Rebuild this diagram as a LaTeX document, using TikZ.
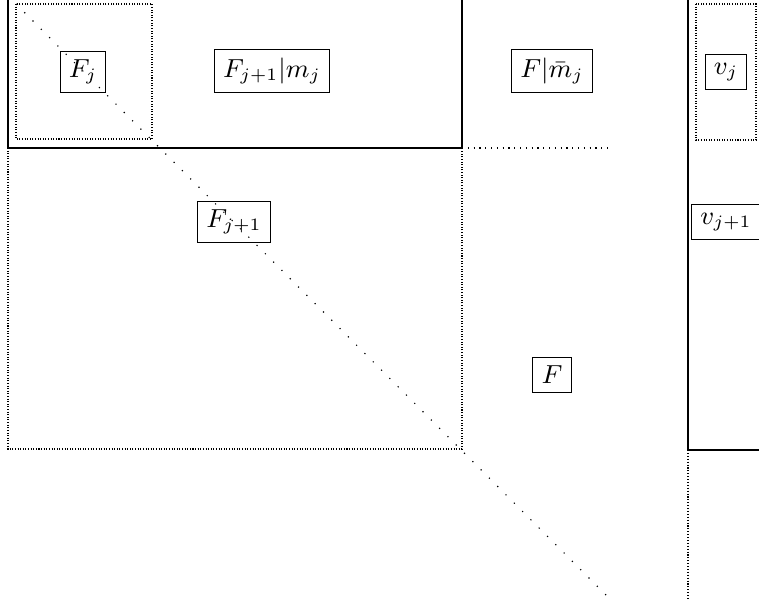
\documentclass[tikz,border=0pt]{standalone}
\begin{document}
\begin{tikzpicture}[x=0.3448pt,y=-0.3448pt,
  lbl/.style={draw,line width=0.35pt,inner sep=3pt,fill=none,font=\fontsize{9}{11}\selectfont},
  solidline/.style={line width=0.35pt},
  boxdots/.style={line width=0.4pt,dash pattern=on 0.35pt off 0.55pt},
  diagdots/.style={line width=0.4pt,dash pattern=on 0.4pt off 3.65pt},
  hdots/.style={line width=0.4pt,dash pattern=on 0.4pt off 1.6pt},
  vdots/.style={line width=0.4pt,dash pattern=on 0.4pt off 0.6pt}]
\clip (0,0) rectangle (759,609);
% matrix blocks
\draw[solidline] (8,-20) rectangle (462,148);
\draw[boxdots] (16,4) rectangle (152,139);
\draw[boxdots] (8,148) rectangle (462,449);
\draw[hdots] (462,148) -- (610,148);
\coordinate (d0) at (16,4);
\coordinate (d1) at (608,597);
\draw[diagdots] (d0) -- (d1);
% vector
\draw[solidline] (688,-20) -- (688,450) -- (780,450);
\draw[vdots] (688,450) -- (688,600);
\draw[boxdots] (696,4) rectangle (756,140);
% labels
\node[lbl] (fj) at (83,72) {$F_j$};
\node[lbl] (fjm) at (272,71) {$F_{j+1}|m_j$};
\node[lbl] (fbm) at (552,71) {$F|\bar{m}_j$};
\node[lbl] (fj1) at (234,222) {$F_{j+1}$};
\node[lbl] (f) at (552,375) {$F$};
\node[lbl] (vj) at (726,72) {$v_j$};
\node[lbl] (vj1) at (726,222) {$v_{j+1}$};
\end{tikzpicture}
\end{document}
